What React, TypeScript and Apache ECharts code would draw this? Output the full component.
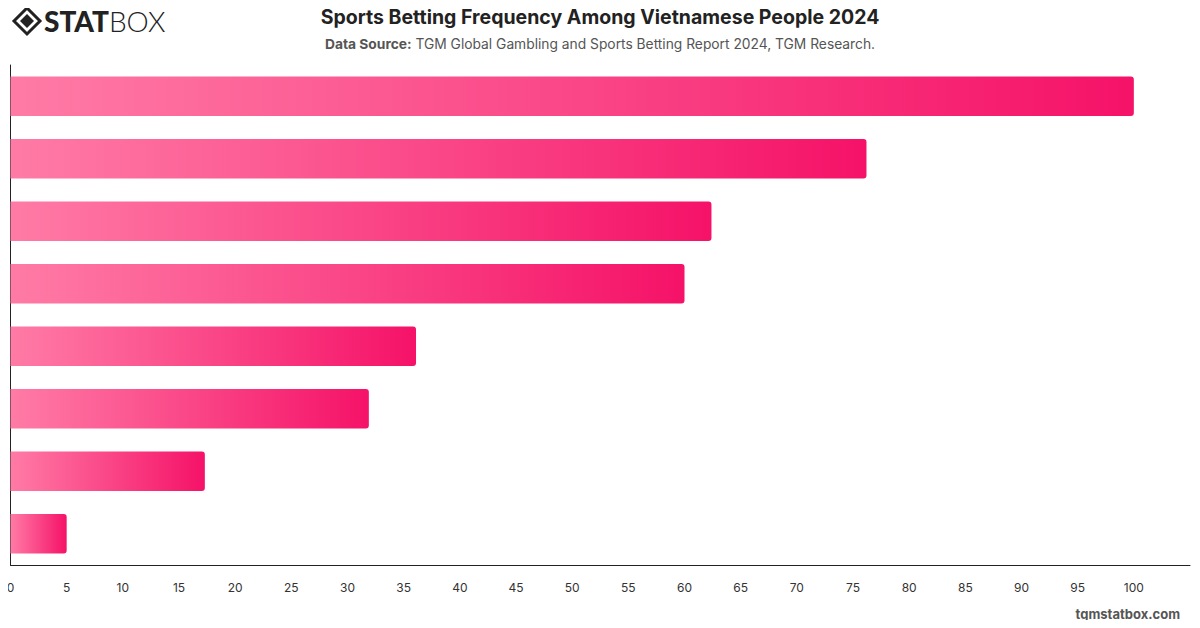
import React, { useEffect, useRef } from "react";
import * as echarts from "echarts";

const categories = ["A", "B", "C", "D", "E", "F", "G", "H"];
const values = [100, 76.2, 62.4, 60.0, 36.1, 31.9, 17.3, 5.0];
const xTicks = { min: 0, max: 105, interval: 5 };

const titleText = "Sports Betting Frequency Among Vietnamese People 2024";
const sourceLabel = "Data Source:";
const sourceText = " TGM Global Gambling and Sports Betting Report 2024, TGM Research.";
const footerText = "tgmstatbox.com";

export default function App() {
  const ref = useRef<HTMLDivElement>(null);
  useEffect(() => {
    if (!ref.current) return;
    const chart = echarts.init(ref.current, undefined, { renderer: "svg" });
    const font = "Inter, 'Helvetica Neue', Arial, sans-serif";
    chart.setOption({
      animation: false,
      textStyle: { fontFamily: font },
      title: {
        text: titleText,
        left: "center",
        top: 2,
        textStyle: { fontSize: 19.5, fontWeight: "bold", color: "#222", fontFamily: font },
        subtext: `{b|${sourceLabel}}{n|${sourceText}}`,
        itemGap: 10,
        subtextStyle: {
          rich: {
            b: { fontSize: 13.8, fontWeight: "bold", color: "#555", fontFamily: font },
            n: { fontSize: 13.8, color: "#555", fontFamily: font },
          },
        },
      },
      grid: { left: 10.5, right: 10, top: 65, bottom: 63, containLabel: false },
      xAxis: {
        type: "value",
        min: xTicks.min,
        max: xTicks.max,
        interval: xTicks.interval,
        axisLine: { show: true, lineStyle: { color: "#222", width: 1 } },
        axisTick: { show: false },
        splitLine: { show: false },
        axisLabel: {
          color: "#333",
          fontSize: 12,
          margin: 16,
          fontFamily: font,
          formatter: (v: number) => (v > 100 ? "" : String(v)),
        },
      },
      yAxis: {
        type: "category",
        data: categories,
        inverse: true,
        axisLine: { show: true, lineStyle: { color: "#222", width: 1 } },
        axisTick: { show: false },
        axisLabel: { show: false },
      },
      series: [
        {
          type: "bar",
          data: values,
          barCategoryGap: "37%",
          itemStyle: {
            borderRadius: [0, 3, 3, 0],
            color: new echarts.graphic.LinearGradient(0, 0, 1, 0, [
              { offset: 0, color: "#FF7BA6" },
              { offset: 1, color: "#F51268" },
            ]),
          },
        },
      ],
      graphic: [
        {
          type: "polygon",
          shape: { points: [[27, 8], [40, 21], [27, 34], [14, 21]] },
          style: { fill: "none", stroke: "#222", lineWidth: 3 },
        },
        {
          type: "polygon",
          shape: { points: [[27, 14], [34, 21], [27, 28], [20, 21]] },
          style: { fill: "#222" },
        },
        {
          type: "text",
          left: 44,
          top: 7,
          style: {
            text: "{s|STAT}{b|BOX}",
            rich: {
              s: { fontSize: 28, fontWeight: 900, fontFamily: "Lato, Inter, sans-serif", fill: "#222" },
              b: { fontSize: 28, fontWeight: 300, fontFamily: "Lato, Inter, sans-serif", fill: "#222" },
            },
          },
        },
        {
          type: "text",
          right: 20,
          top: 607,
          style: { text: footerText, fontSize: 13, fontWeight: "bold", fill: "#555", fontFamily: font },
        },
      ],
    });
    return () => chart.dispose();
  }, []);
  return <div ref={ref} style={{ width: 1200, height: 628, margin: -8 }} />;
}
